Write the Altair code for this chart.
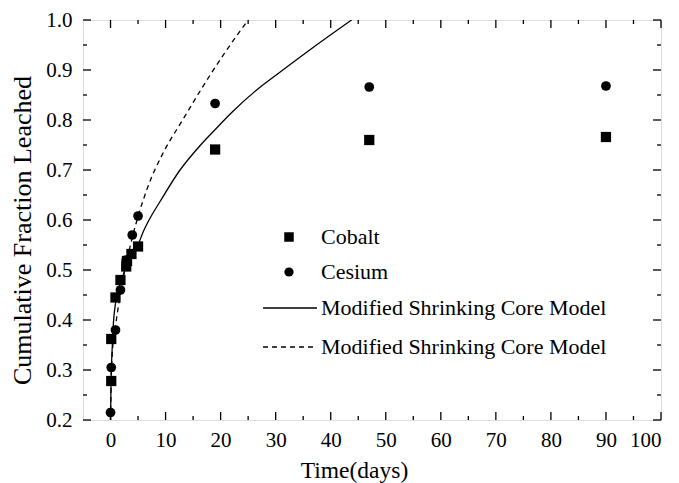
import altair as alt
import pandas as pd

# ---- data ----
cobalt_t = [0.13, 0.13, 0.9, 1.8, 2.85, 3.0, 3.8, 5.0, 19, 47, 90]
cobalt_f = [0.278, 0.362, 0.445, 0.48, 0.507, 0.518, 0.532, 0.547, 0.741, 0.76, 0.766]
cesium_t = [0.0, 0.13, 0.9, 1.8, 2.85, 3.95, 5.0, 19, 47, 90]
cesium_f = [0.215, 0.305, 0.38, 0.46, 0.52, 0.57, 0.608, 0.833, 0.866, 0.868]

solid_t = [0, 0.1, 0.25, 0.45, 1, 2, 3, 5, 6, 7, 9, 12.5, 16.2, 19.2, 22.2, 27.1, 30.1, 36.8, 43.8]
solid_f = [0.2, 0.28, 0.33, 0.38, 0.44, 0.48, 0.51, 0.55, 0.578, 0.6, 0.637, 0.698, 0.748, 0.783, 0.817, 0.865, 0.89, 0.945, 1.0]
dashed_t = [0, 0.1, 0.3, 1, 2, 3, 4, 5, 6.8, 9.5, 13.1, 16.5, 20.8, 25]
dashed_f = [0.2, 0.27, 0.33, 0.395, 0.465, 0.52, 0.567, 0.607, 0.667, 0.733, 0.8, 0.862, 0.935, 1.0]

x_major = [0, 10, 20, 30, 40, 50, 60, 70, 80, 90, 100]
x_minor = [5, 15, 25, 35, 45, 55, 65, 75, 85, 95]
y_major = [0.2, 0.3, 0.4, 0.5, 0.6, 0.7, 0.8, 0.9, 1.0]
y_minor = [0.25, 0.35, 0.45, 0.55, 0.65, 0.75, 0.85, 0.95]

legend_labels = ["Cobalt", "Cesium", "Modified Shrinking Core Model", "Modified Shrinking Core Model"]

W, H = 578, 400
FONT = "Liberation Serif"

xs = alt.Scale(domain=[-5, 100], nice=False, zero=False)
ys = alt.Scale(domain=[0.2, 1.0], nice=False, zero=False)
xaxis = alt.Axis(values=x_major, title="Time(days)", ticks=False, domain=False, grid=False,
                 labelFont=FONT, labelFontSize=21, labelColor="black", labelPadding=9,
                 titleFont=FONT, titleFontSize=23.5, titleFontWeight="normal", titleColor="black",
                 titleX=271, titleY=50, titleBaseline="middle", titleAnchor="middle")
yaxis = alt.Axis(values=y_major, format=".1f", title="Cumulative Fraction Leached", ticks=False,
                 domain=False, grid=False, labelFont=FONT, labelFontSize=21, labelColor="black",
                 labelPadding=11, titleFont=FONT, titleFontSize=26, titleFontWeight="normal",
                 titleColor="black", titleX=-61, titleY=210, titleBaseline="middle",
                 titleAnchor="middle")
X = alt.X("x:Q", scale=xs, axis=xaxis)
Y = alt.Y("y:Q", scale=ys, axis=yaxis)

df_co = pd.DataFrame({"x": cobalt_t, "y": cobalt_f})
df_cs = pd.DataFrame({"x": cesium_t, "y": cesium_f})
df_sol = pd.DataFrame({"x": solid_t, "y": solid_f})
df_das = pd.DataFrame({"x": dashed_t, "y": dashed_f})

solid = alt.Chart(df_sol).mark_line(color="black", strokeWidth=1.3, interpolate="monotone", clip=True).encode(x=X, y=Y)
dashed = alt.Chart(df_das).mark_line(color="black", strokeWidth=1.3, strokeDash=[5, 4], interpolate="monotone", clip=True).encode(x=X, y=Y)
co = alt.Chart(df_co).mark_square(color="black", size=105, opacity=1).encode(x=X, y=Y)
cs = alt.Chart(df_cs).mark_circle(color="black", size=95, opacity=1).encode(x=X, y=Y)

def xticks(vals, length):
    d = pd.DataFrame({"x": vals})
    b = alt.Chart(d).mark_rule(color="black", strokeWidth=1.3).encode(x=X, y=alt.value(H), y2=alt.value(H - length))
    t = alt.Chart(d).mark_rule(color="black", strokeWidth=1.3).encode(x=X, y=alt.value(0), y2=alt.value(length))
    return [b, t]

def yticks(vals, length):
    d = pd.DataFrame({"y": vals})
    l = alt.Chart(d).mark_rule(color="black", strokeWidth=1.3).encode(y=Y, x=alt.value(0), x2=alt.value(length))
    r = alt.Chart(d).mark_rule(color="black", strokeWidth=1.3).encode(y=Y, x=alt.value(W), x2=alt.value(W - length))
    return [l, r]

ticks = xticks(x_major, 8) + xticks(x_minor, 4) + yticks(y_major, 8) + yticks(y_minor, 4)

# legend
leg_y = [217, 252, 288, 327]
leg = []
for i, lab in enumerate(legend_labels):
    leg.append(alt.Chart(pd.DataFrame({"label": [lab]})).mark_text(
        font=FONT, fontSize=22, align="left", baseline="middle", color="black").encode(
        text="label:N", x=alt.value(238), y=alt.value(leg_y[i])))
leg_sq = alt.Chart(pd.DataFrame({"label": [legend_labels[0]]})).mark_square(color="black", size=90, opacity=1).encode(
    x=alt.value(206), y=alt.value(leg_y[0]))
leg_ci = alt.Chart(pd.DataFrame({"label": [legend_labels[1]]})).mark_circle(color="black", size=85, opacity=1).encode(
    x=alt.value(206), y=alt.value(leg_y[1]))
leg_l1 = alt.Chart(pd.DataFrame({"label": [legend_labels[2]]})).mark_rule(color="black", strokeWidth=1.3).encode(
    x=alt.value(180), x2=alt.value(234), y=alt.value(leg_y[2]))
leg_l2 = alt.Chart(pd.DataFrame({"label": [legend_labels[3]]})).mark_rule(color="black", strokeWidth=1.3, strokeDash=[5, 4]).encode(
    x=alt.value(180), x2=alt.value(234), y=alt.value(leg_y[3]))

chart = alt.layer(solid, dashed, co, cs, *ticks, *leg, leg_sq, leg_ci, leg_l1, leg_l2).properties(
    width=W, height=H,
    autosize=alt.AutoSizeParams(type="none"),
    padding={"left": 83, "top": 20, "right": 18, "bottom": 63},
).configure_view(stroke="black", strokeWidth=1.6).configure(background="white")

chart.save("out.html", embed_options={"renderer": "svg", "actions": False})
